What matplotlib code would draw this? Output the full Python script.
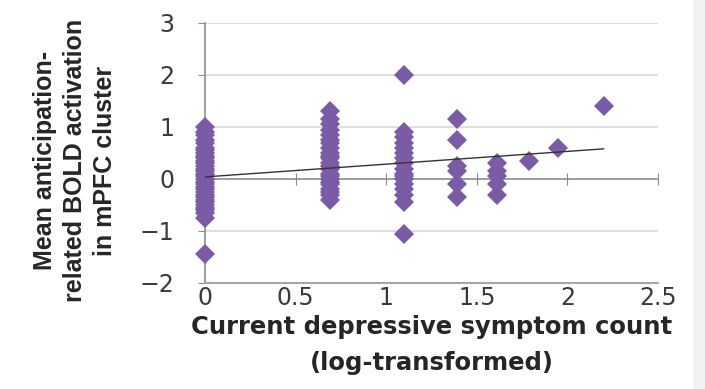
import matplotlib
matplotlib.use("Agg")
import matplotlib.pyplot as plt
from matplotlib.patches import Rectangle

plt.rcParams['font.family'] = ['DejaVu Sans']

# x positions of columns (log-transformed symptom count)
col_x = [0.0, 0.69, 1.10, 1.39, 1.61, 1.79, 1.95, 2.20]
# y values per column
col_y = [
    [1.0, 0.9, 0.85, 0.75, 0.7, 0.6, 0.55, 0.5, 0.45, 0.4, 0.35, 0.3, 0.25, 0.2,
     0.15, 0.1, 0.05, 0.0, -0.05, -0.1, -0.15, -0.2, -0.25, -0.3, -0.35, -0.4,
     -0.45, -0.5, -0.55, -0.6, -0.65, -0.75, -1.45],
    [1.3, 1.15, 1.05, 0.95, 0.85, 0.75, 0.7, 0.6, 0.5, 0.45, 0.4, 0.3, 0.25, 0.2,
     0.1, 0.05, 0.0, -0.05, -0.1, -0.2, -0.25, -0.3, -0.4],
    [2.0, 0.9, 0.8, 0.7, 0.6, 0.5, 0.4, 0.3, 0.2, 0.1, 0.05, 0.0, -0.1, -0.2,
     -0.3, -0.45, -1.05],
    [1.15, 0.75, 0.25, 0.15, -0.1, -0.35],
    [0.3, 0.15, 0.05, -0.1, -0.3],
    [0.35],
    [0.6],
    [1.4],
]
trend_x = [0.0, 2.2]
trend_y = [0.04, 0.58]

x_ticks = [0, 0.5, 1, 1.5, 2, 2.5]
x_ticklabels = ["0", "0.5", "1", "1.5", "2", "2.5"]
y_ticks = [-2, -1, 0, 1, 2, 3]
y_ticklabels = ["\u22122", "\u22121", "0", "1", "2", "3"]

fig = plt.figure(figsize=(7.05, 3.89), dpi=100)
fig.patches.append(Rectangle((693/705, 0), 12/705, 1, transform=fig.transFigure,
                             facecolor="#f2f2f2", edgecolor="none", zorder=0))
ax = fig.add_axes([205/705, 1 - 283/389, (658 - 205)/705, (283 - 23)/389])

for cx, ys in zip(col_x, col_y):
    ax.plot([cx] * len(ys), ys, linestyle="none", marker="D", markersize=10.5,
            color="#7a5ba6", markeredgewidth=0, zorder=3, clip_on=False)

ax.plot(trend_x, trend_y, color="#333333", linewidth=1.0, zorder=4)

ax.set_xlim(0, 2.5)
ax.set_ylim(-2, 3)
ax.set_xticks(x_ticks)
ax.set_xticklabels(x_ticklabels)
ax.set_yticks(y_ticks)
ax.set_yticklabels(y_ticklabels)

for y in [-1, 1, 2, 3]:
    ax.axhline(y, color="#d9d9d9", linewidth=1.2, zorder=1)
ax.axhline(0, color="#8c8c8c", linewidth=1.2, zorder=2)

for s in ["top", "right"]:
    ax.spines[s].set_visible(False)
ax.spines["bottom"].set_color("#a6a6a6")
ax.spines["bottom"].set_linewidth(1.5)
ax.spines["left"].set_color("#8c8c8c")
ax.spines["left"].set_linewidth(1.2)

ax.tick_params(axis="x", length=0, labelsize=17, labelcolor="#3a3a3a", pad=2)
ax.tick_params(axis="y", direction="out", length=5, color="#8c8c8c",
               labelsize=17, labelcolor="#3a3a3a", pad=17)

sec = ax.secondary_xaxis(0.4)
sec.set_xticks(x_ticks)
sec.tick_params(axis="x", direction="inout", length=8, color="#8c8c8c",
                labelbottom=False, labeltop=False)
sec.spines["bottom"].set_visible(False)
sec.spines["top"].set_visible(False)

ax.set_xlabel("Current depressive symptom count\n(log-transformed)",
              fontsize=17.5, fontweight="bold", color="#262626", labelpad=4,
              linespacing=1.6)
ax.set_ylabel("Mean anticipation-\nrelated BOLD activation\nin mPFC cluster",
              fontsize=18, fontweight="bold", color="#262626",
              linespacing=1.3, family=["Liberation Sans", "DejaVu Sans"])
ax.yaxis.set_label_coords(-0.195, 0.47)

fig.savefig("out.png", dpi=100, facecolor="white")
